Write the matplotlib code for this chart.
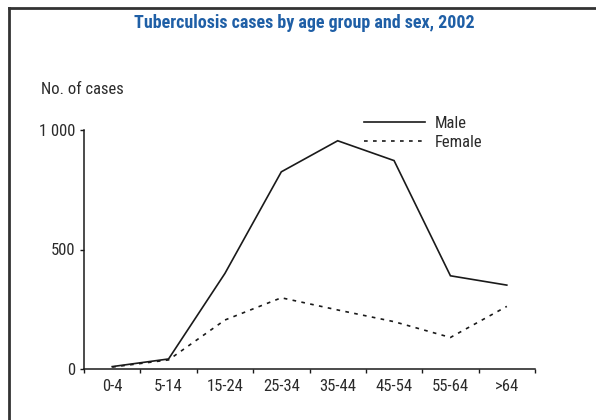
import matplotlib
matplotlib.use("Agg")
import matplotlib.pyplot as plt
from matplotlib.lines import Line2D

categories = ["0-4", "5-14", "15-24", "25-34", "35-44", "45-54", "55-64", ">64"]
male = [10, 42, 400, 825, 955, 872, 390, 351]
female = [8, 38, 205, 298, 247, 198, 132, 262]
yticks = [0, 500, 1000]
ytick_labels = ["0", "500", "1 000"]

W, H = 596, 420
plt.rcParams['font.family'] = ['Roboto Condensed', 'Archivo Narrow', 'DejaVu Sans']
txt = '#2b2b2b'

fig = plt.figure(figsize=(W / 100, H / 100), dpi=100)
fig.patch.set_facecolor('white')

# frame lines (left and top)
fig.add_artist(Line2D([9 / W, 9 / W], [0, 1 - 8 / H], color='#333333', lw=2.0,
                      transform=fig.transFigure))
fig.add_artist(Line2D([9 / W, 1], [1 - 8 / H, 1 - 8 / H], color='#333333', lw=2.0,
                      transform=fig.transFigure))

x0, x1 = 84, 535
ytop, ybot = 130, 369
ax = fig.add_axes([x0 / W, 1 - ybot / H, (x1 - x0) / W, (ybot - ytop) / H])

xs = [i + 0.5 for i in range(len(categories))]
ax.plot(xs, male, color='#1a1a1a', lw=1.2, solid_joinstyle='miter', label='Male')
ax.plot(xs, female, color='#1a1a1a', lw=1.2, linestyle=(0, (2.2, 3.2)), label='Female')

ax.set_xlim(0, len(categories))
ax.set_ylim(0, 1000)
for s in ['top', 'right']:
    ax.spines[s].set_visible(False)
for s in ['left', 'bottom']:
    ax.spines[s].set_color('#1a1a1a')
    ax.spines[s].set_linewidth(1.1)

ax.set_xticks(range(len(categories) + 1))
ax.set_xticklabels([])
ax.set_xticks(xs, minor=True)
ax.set_xticklabels(categories, minor=True)
ax.tick_params(axis='x', which='major', direction='out', length=3, width=1.0, color='#1a1a1a')
ax.tick_params(axis='x', which='minor', length=0, pad=7, labelsize=12, labelcolor=txt)
ax.set_yticks(yticks)
ax.set_yticklabels(ytick_labels)
ax.tick_params(axis='y', direction='out', length=3, width=1.0, color='#1a1a1a',
               labelsize=12, labelcolor=txt, pad=3)

fig.text(304 / W, 1 - 23 / H, "Tuberculosis cases by age group and sex, 2002",
         ha='center', va='center', fontsize=13, fontweight='bold', color='#1f5fa6')
fig.text(41 / W, 1 - 89 / H, "No. of cases", ha='left', va='center',
         fontsize=12, color=txt)

leg = ax.legend(loc='upper left', bbox_to_anchor=(364 / W, 1 - 116 / H),
                bbox_transform=fig.transFigure, frameon=False, fontsize=12,
                handlelength=3.65, handletextpad=0.6, labelspacing=0.22,
                borderpad=0, borderaxespad=0)
for t in leg.get_texts():
    t.set_color(txt)

fig.savefig("out.png", dpi=100)
